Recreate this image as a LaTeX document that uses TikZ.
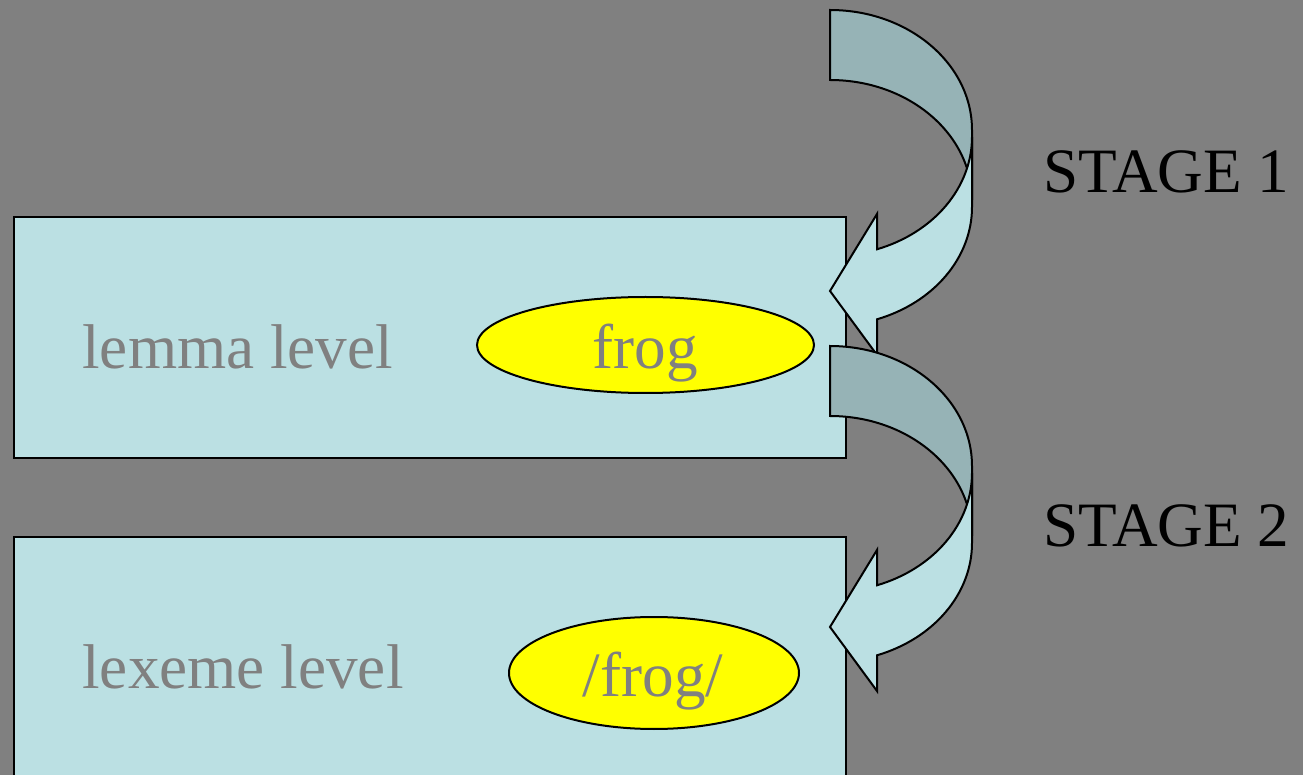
\documentclass[tikz,border=0pt]{standalone}
\usepackage{fontspec}
\setmainfont{Liberation Serif}
\usetikzlibrary{shapes.geometric}
\definecolor{bg}{HTML}{808080}
\definecolor{boxfill}{HTML}{BBE0E3}
\definecolor{arrowdark}{HTML}{96B3B6}
\definecolor{txtgray}{HTML}{808080}
\definecolor{tokfill}{HTML}{FFFF00}
\begin{document}
\begin{tikzpicture}[x=0.5pt,y=-0.5pt,
  levelbox/.style={draw=black,line width=1pt,fill=boxfill,rectangle,inner sep=0pt,outer sep=0pt},
  token/.style={draw=black,line width=1pt,fill=tokfill,ellipse,inner sep=0pt,outer sep=0pt},
  grtext/.style={text=txtgray,font=\fontsize{31.6}{38}\selectfont,inner sep=0pt},
  stagetext/.style={text=black,font=\fontsize{31.6}{38}\selectfont,inner sep=0pt,anchor=base west},
  arrowback/.style={draw=black,line width=1pt,fill=arrowdark,line join=miter},
  arrowfront/.style={draw=black,line width=1pt,fill=boxfill,line join=miter}]
\clip (0,0) rectangle (1303,775);
\fill[bg] (0,0) rectangle (1303,775);
% level boxes
\node[levelbox,minimum width=416pt,minimum height=120.5pt] (lemmabox) at (430,337.5) {};
\node[levelbox,minimum width=416pt,minimum height=131.5pt] (lexemebox) at (430,668.5) {};
% tokens
\node[token,minimum width=168.5pt,minimum height=48pt] (frog) at (645.5,345) {};
\node[token,minimum width=145pt,minimum height=56pt] (frogphon) at (654,673) {};
% texts
\node[grtext,anchor=base west] (lemmatxt) at (82,369) {lemma level};
\node[grtext,anchor=base west] (lexemetxt) at (82,689) {lexeme level};
\node[grtext,anchor=base] (frogtxt) at (645.5,369) {frog};
\node[grtext,anchor=base] (frogphontxt) at (653,697) {/frog/};
\node[stagetext] (stage1) at (1043,193) {STAGE 1};
\node[stagetext] (stage2) at (1043,546) {STAGE 2};
% curved arrows
\foreach \dy in {0,336}{
  \begin{scope}[shift={(0,\dy)}]
    \draw[arrowback] (830,10) arc[start angle=-90,end angle=0,x radius=142,y radius=120]
      -- (972,200) arc[start angle=0,end angle=-90,x radius=142,y radius=120] -- cycle;
    \draw[arrowfront] (972,137) arc[start angle=0,end angle=70.67,x radius=142,y radius=119]
      -- (877,214) -- (830,291) -- (877,355) -- (877,319.3)
      arc[start angle=70.67,end angle=0,x radius=142,y radius=119] -- cycle;
  \end{scope}
}
\end{tikzpicture}
\end{document}
